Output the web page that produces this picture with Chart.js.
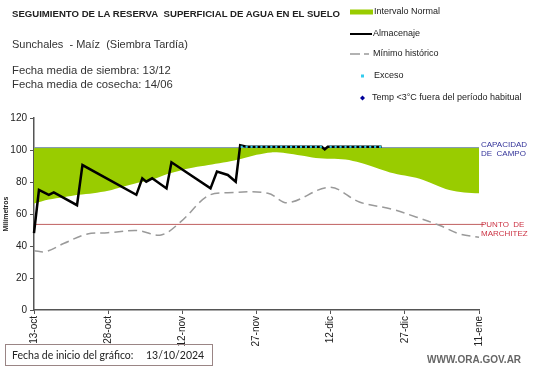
<!DOCTYPE html>
<html lang="es">
<head>
<meta charset="UTF-8">
<title>Reserva de agua - Sunchales</title>
<script src="https://cdn.jsdelivr.net/npm/chart.js@4"></script>
<style>
  body{margin:0;width:541px;height:368px;position:relative;background:#fff;font-family:"Liberation Sans",Arial,sans-serif;overflow:hidden}
  #wrap{position:absolute;left:0;top:0;width:541px;height:368px}
  .t{position:absolute;white-space:nowrap;color:#222}
  #title{left:12px;top:8px;font-weight:bold;font-size:9.6px}
  #sub{left:12px;top:38px;font-size:11px;color:#333}
  #f1{left:12px;top:64px;font-size:11.3px;color:#333;line-height:13.5px}
  #foot{left:5px;top:344px;width:206px;height:20px;border:1px solid #9a8585;font-family:Lato,sans-serif;font-size:10.5px;line-height:20px;color:#222}
  #foot span{position:absolute;top:0}
  #web{left:427px;top:354px;font-weight:bold;font-size:10px;color:#666}
</style>
</head>
<body>
<div id="wrap"><canvas id="c" width="541" height="368"></canvas></div>
<div class="t" id="title">SEGUIMIENTO DE LA RESERVA&nbsp; SUPERFICIAL DE AGUA EN EL SUELO</div>
<div class="t" id="sub">Sunchales&nbsp; - Maíz&nbsp; (Siembra Tardía)</div>
<div class="t" id="f1">Fecha media de siembra: 13/12<br>Fecha media de cosecha: 14/06</div>
<div class="t" id="foot"><span style="left:6px">Fecha de inicio del gráfico:</span><span style="left:140px">13/10/2024</span></div>
<div class="t" id="web">WWW.ORA.GOV.AR</div>
<script>
// days counted from 13-oct
const xLabels = ['13-oct','28-oct','12-nov','27-nov','12-dic','27-dic','11-ene'];

const CC = 101.5;   // capacidad de campo
const PMP = 53.5;   // punto de marchitez

const normalDays = [0,3,6,9,12,15,18,21,24,27,30,33,36,39,42,45,48,51,54,57,60,63,66,69,72,75,78,81,84,87,90];
const normalLow  = [66.5,69,70.5,72,73,74.5,77,79.5,81.5,85,87.5,89.5,91,92.5,94.5,97,98.5,98,96.5,95,94.5,94,92,89,86,84,82,78.5,75,73.5,73];

const storDays = [0,1,3,4,8.7,9.8,20.7,21.9,22.7,23.9,26.8,27.8,35.7,37,39.2,40.8,41.7,43,58.2,58.8,59.4,70.3];
const storVals = [48,75,72,73.5,65.5,90.6,72,82.3,80.2,82.3,76,92.3,76,86.5,84.4,80.2,103,102,102,100.4,102,102];

const minDays = [0,2.4,6.1,10.8,14.9,21,25.7,29.7,35.1,39.2,47.3,51.3,59.8,65.8,72.4,77.4,82.1,86.1,90];
const minVals = [37,36.5,41.7,47.5,48.3,49.6,46.9,55.2,71.2,73.3,73,67,76.7,67.5,63,58,52.8,47.5,45.5];

const excessDays = [42,43,44,45,46,47,48,49,50,51,52,53,54,55,56,57,58,60,61,62,63,64,65,66,67,68,69,70];
const excessVals = [102,102,102,102,102,102,102,102,102,102,102,102,102,102,102,102,102,102,102,102,102,102,102,102,102,102,102,102];

const pts = (xs, ys) => xs.map((x, i) => ({x, y: ys[i]}));
const FONT = '"Liberation Sans", Arial, sans-serif';

const sideLabels = {
  id: 'sideLabels',
  afterDraw(chart) {
    const {ctx, chartArea, scales: {y}} = chart;
    ctx.save();
    ctx.font = '8px ' + FONT;
    ctx.textBaseline = 'middle';
    ctx.fillStyle = '#333399';
    const yc = y.getPixelForValue(CC);
    ctx.fillText('CAPACIDAD', chartArea.right + 2, yc - 3);
    ctx.fillText('DE  CAMPO', chartArea.right + 2, yc + 6);
    ctx.fillStyle = '#cc3344';
    const yp = y.getPixelForValue(PMP);
    ctx.fillText('PUNTO  DE', chartArea.right + 2, yp);
    ctx.fillText('MARCHITEZ', chartArea.right + 2, yp + 9);

    // legend
    const lx = 350, ty = [12, 34, 54, 76, 98];
    ctx.font = '9px ' + FONT;
    ctx.fillStyle = '#99cc00';
    ctx.fillRect(lx, ty[0] - 2.5, 23, 5);
    ctx.strokeStyle = '#000'; ctx.lineWidth = 2;
    ctx.beginPath(); ctx.moveTo(lx, ty[1]); ctx.lineTo(lx + 22, ty[1]); ctx.stroke();
    ctx.strokeStyle = '#999'; ctx.lineWidth = 1.5;
    ctx.setLineDash([10, 4]);
    ctx.beginPath(); ctx.moveTo(lx, ty[2]); ctx.lineTo(lx + 19, ty[2]); ctx.stroke();
    ctx.setLineDash([]);
    ctx.fillStyle = '#33ccee';
    ctx.fillRect(lx + 11, ty[3] - 1.5, 3, 3);
    ctx.fillStyle = '#000099';
    ctx.beginPath();
    ctx.moveTo(lx + 12.5, ty[4] - 2.5); ctx.lineTo(lx + 15, ty[4]); ctx.lineTo(lx + 12.5, ty[4] + 2.5); ctx.lineTo(lx + 10, ty[4]);
    ctx.closePath(); ctx.fill();
    ctx.fillStyle = '#222';
    ctx.fillText('Intervalo Normal', 374, ty[0]);
    ctx.fillText('Almacenaje', 373, ty[1]);
    ctx.fillText('Mínimo histórico', 373, ty[2]);
    ctx.fillText('Exceso', 374, ty[3]);
    ctx.fillText('Temp <3°C fuera del período habitual', 372, ty[4]);
    ctx.restore();
  }
};

new Chart(document.getElementById('c'), {
  type: 'line',
  data: {
    datasets: [
      {label: 'Exceso', data: pts(excessDays, excessVals), showLine: false,
       pointStyle: 'rect', pointRadius: 1.5, pointBackgroundColor: '#33ccee', pointBorderWidth: 0, order: 0},
      {label: 'Temp <3°C fuera del período habitual', data: [], showLine: false,
       pointStyle: 'rectRot', pointBackgroundColor: '#000099', order: 0},
      {label: 'Almacenaje', data: pts(storDays, storVals), borderColor: '#000', borderWidth: 2.5,
       pointRadius: 0, tension: 0, order: 1},
      {label: 'Mínimo histórico', data: pts(minDays, minVals), borderColor: '#9a9a9a', borderWidth: 1.5,
       borderDash: [9, 5], pointRadius: 0, tension: 0.35, order: 2},
      {label: 'CC', data: [{x: 0, y: CC}, {x: 90, y: CC}], borderColor: '#7f95b5', borderWidth: 1,
       pointRadius: 0, order: 3},
      {label: 'PMP', data: [{x: 0, y: PMP}, {x: 91, y: PMP}], borderColor: '#c06060', borderWidth: 1,
       pointRadius: 0, order: 3},
      {label: 'Intervalo Normal', data: pts(normalDays, normalLow), borderWidth: 0, borderColor: 'rgba(0,0,0,0)',
       backgroundColor: '#99cc00', fill: {value: CC}, pointRadius: 0, tension: 0.3, order: 4}
    ]
  },
  options: {
    responsive: false,
    animation: false,
    clip: false,
    layout: {padding: {top: 118, right: 62, left: 0, bottom: 0}},
    plugins: {legend: {display: false}, tooltip: {enabled: false}, title: {display: false}},
    scales: {
      x: {
        type: 'linear', min: 0, max: 90,
        afterFit: s => { s.height = 58; },
        grid: {display: true, drawOnChartArea: false, drawTicks: true, tickLength: 4, color: '#555'},
        border: {display: true, color: '#555', width: 1.5},
        ticks: {stepSize: 15, autoSkip: false, minRotation: 90, maxRotation: 90, padding: 2,
                color: '#222', font: {family: FONT, size: 10},
                callback: v => xLabels[v / 15]}
      },
      y: {
        min: 0, max: 120,
        afterFit: s => { s.width = 34; },
        grid: {display: true, drawOnChartArea: false, drawTicks: true, tickLength: 4, color: '#555'},
        border: {display: true, color: '#555', width: 1.5},
        ticks: {stepSize: 20, padding: 3, color: '#222', font: {family: FONT, size: 10}},
        title: {display: true, text: 'Milímetros', color: '#222', padding: {top: 2, bottom: 2},
                font: {family: FONT, size: 7, weight: 'bold'}}
      }
    }
  },
  plugins: [sideLabels]
});
</script>
</body>
</html>
